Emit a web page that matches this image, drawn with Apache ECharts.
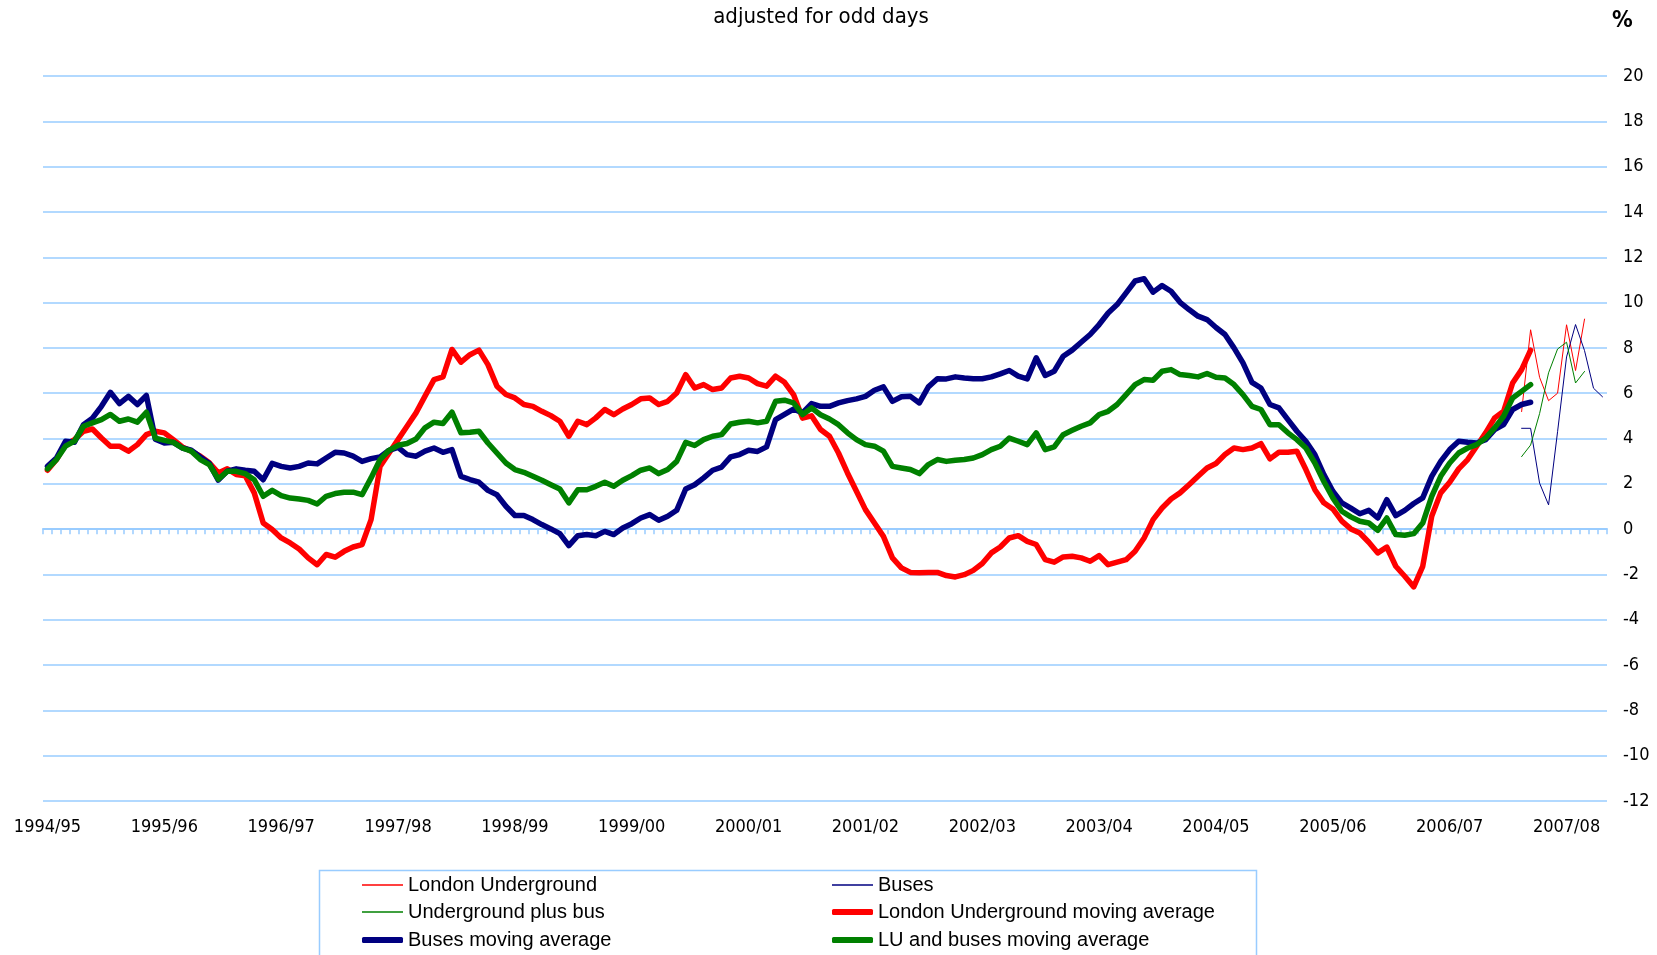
<!DOCTYPE html>
<html>
<head>
<meta charset="utf-8">
<title>adjusted for odd days</title>
<script src="https://cdn.jsdelivr.net/npm/echarts@6/dist/echarts.min.js"></script>
<style>
  html, body { margin: 0; padding: 0; background: #fff; }
  #chart { width: 1657px; height: 955px; }
</style>
</head>
<body>
<div id="chart"></div>
<script>
// financial years, 13 four-week periods each; the chart runs to 2007/08 period 5
var years = ['1994/95', '1995/96', '1996/97', '1997/98', '1998/99', '1999/00', '2000/01',
             '2001/02', '2002/03', '2003/04', '2004/05', '2005/06', '2006/07', '2007/08'];
var periodsPerYear = 13;
var periodCount = 174;

// moving averages, % change, from period 1 of 1994/95
var luMovingAvg = [
  2.6, 3.07, 3.73, 3.95, 4.32, 4.42, 4.02, 3.66, 3.66, 3.44, 3.73, 4.17, 4.32,
  4.25, 3.95, 3.63, 3.44, 3.22, 2.93, 2.48, 2.66, 2.41, 2.36, 1.6, 0.27, -0.02,
  -0.39, -0.61, -0.88, -1.27, -1.57, -1.12, -1.24, -0.98, -0.79, -0.68, 0.42, 2.77, 3.36,
  3.95, 4.54, 5.13, 5.87, 6.6, 6.72, 7.93, 7.37, 7.7, 7.9, 7.26, 6.31, 5.94,
  5.79, 5.5, 5.42, 5.2, 5.01, 4.76, 4.1, 4.76, 4.61, 4.91, 5.28, 5.05, 5.3,
  5.5, 5.75, 5.79, 5.5, 5.64, 6.01, 6.82, 6.23, 6.38, 6.16, 6.23, 6.67, 6.75,
  6.67, 6.42, 6.31, 6.75, 6.48, 5.94, 4.9, 5.0, 4.4, 4.1, 3.36, 2.48, 1.67,
  0.86, 0.27, -0.32, -1.27, -1.71, -1.91, -1.93, -1.91, -1.91, -2.05, -2.11, -2.01, -1.82,
  -1.52, -1.05, -0.79, -0.39, -0.29, -0.54, -0.68, -1.35, -1.46, -1.23, -1.2, -1.27, -1.42,
  -1.17, -1.57, -1.46, -1.35, -0.98, -0.39, 0.42, 0.93, 1.33, 1.6, 1.96, 2.33, 2.7,
  2.9, 3.29, 3.58, 3.51, 3.58, 3.77, 3.1, 3.39, 3.39, 3.44, 2.63, 1.74, 1.16,
  0.89, 0.35, 0.01, -0.17, -0.58, -1.05, -0.79, -1.64, -2.08, -2.55, -1.64, 0.57, 1.6,
  2.07, 2.66, 3.07, 3.66, 4.25, 4.91, 5.2, 6.45, 7.04, 7.9
];
var busMovingAvg = [
  2.77, 3.14, 3.88, 3.83, 4.61, 4.9, 5.42, 6.04, 5.54, 5.86, 5.5, 5.9, 3.97,
  3.8, 3.83, 3.58, 3.48, 3.19, 2.9, 2.16, 2.56, 2.66, 2.6, 2.55, 2.18, 2.9,
  2.77, 2.7, 2.77, 2.92, 2.88, 3.14, 3.39, 3.36, 3.22, 2.99, 3.11, 3.19, 3.48,
  3.61, 3.29, 3.22, 3.44, 3.58, 3.39, 3.51, 2.33, 2.19, 2.07, 1.71, 1.52, 1.01,
  0.6, 0.6, 0.42, 0.2, 0.01, -0.2, -0.73, -0.29, -0.24, -0.29, -0.1, -0.24, 0.05,
  0.24, 0.49, 0.64, 0.39, 0.57, 0.83, 1.77, 1.96, 2.26, 2.6, 2.74, 3.19, 3.29,
  3.48, 3.43, 3.63, 4.83, 5.06, 5.3, 5.13, 5.54, 5.42, 5.42, 5.57, 5.67, 5.75,
  5.86, 6.13, 6.28, 5.64, 5.84, 5.86, 5.57, 6.28, 6.64, 6.63, 6.72, 6.67, 6.64,
  6.64, 6.72, 6.85, 7.0, 6.75, 6.63, 7.56, 6.78, 6.97, 7.63, 7.9, 8.25, 8.59,
  9.03, 9.54, 9.91, 10.43, 10.95, 11.05, 10.46, 10.75, 10.5, 10.01, 9.69, 9.4, 9.25,
  8.9, 8.59, 8.0, 7.34, 6.48, 6.23, 5.5, 5.35, 4.83, 4.32, 3.88, 3.29, 2.41,
  1.67, 1.16, 0.93, 0.68, 0.83, 0.49, 1.3, 0.6, 0.83, 1.13, 1.38, 2.33, 2.99,
  3.51, 3.88, 3.83, 3.8, 3.95, 4.39, 4.61, 5.28, 5.5, 5.6
];
var bothMovingAvg = [
  2.66, 3.07, 3.66, 3.88, 4.54, 4.69, 4.83, 5.06, 4.76, 4.86, 4.72, 5.16, 4.02,
  3.92, 3.83, 3.58, 3.44, 3.07, 2.85, 2.21, 2.55, 2.55, 2.45, 2.18, 1.45, 1.71,
  1.48, 1.37, 1.33, 1.27, 1.11, 1.45, 1.57, 1.63, 1.63, 1.52, 2.26, 3.07, 3.48,
  3.7, 3.78, 3.98, 4.47, 4.72, 4.66, 5.16, 4.25, 4.28, 4.32, 3.8, 3.36, 2.92,
  2.63, 2.51, 2.33, 2.16, 1.96, 1.77, 1.16, 1.74, 1.74, 1.89, 2.07, 1.89, 2.16,
  2.36, 2.6, 2.7, 2.45, 2.63, 2.99, 3.83, 3.69, 3.95, 4.1, 4.17, 4.64, 4.72,
  4.76, 4.69, 4.76, 5.64, 5.69, 5.57, 5.06, 5.35, 5.05, 4.86, 4.61, 4.25, 3.95,
  3.73, 3.66, 3.44, 2.77, 2.7, 2.63, 2.45, 2.85, 3.07, 2.99, 3.04, 3.07, 3.14,
  3.29, 3.51, 3.66, 4.02, 3.88, 3.73, 4.25, 3.51, 3.63, 4.17, 4.36, 4.54, 4.69,
  5.06, 5.2, 5.5, 5.94, 6.38, 6.6, 6.57, 6.97, 7.04, 6.82, 6.78, 6.72, 6.87,
  6.7, 6.67, 6.38, 5.94, 5.42, 5.28, 4.61, 4.61, 4.25, 3.95, 3.58, 2.92, 2.1,
  1.38, 0.79, 0.54, 0.35, 0.27, -0.05, 0.49, -0.24, -0.27, -0.2, 0.27, 1.45, 2.33,
  2.92, 3.36, 3.58, 3.73, 4.02, 4.47, 4.98, 5.79, 6.08, 6.38
];

// single-period figures, shown only for the latest periods (from 2006/07 period 8)
var periodStart = 164;
var luPeriod = [5.19, 8.8, 6.7, 5.67, 6.0, 9.02, 7.0, 9.27];
var busPeriod = [4.45, 4.45, 2.03, 1.07, 4.3, 7.6, 9.03, 7.88, 6.22, 5.84];
var bothPeriod = [3.2, 3.71, 5.1, 6.9, 7.95, 8.25, 6.45, 6.96];

var categories = [];
for (var i = 0; i < periodCount; i++) {
  categories.push(years[Math.floor(i / periodsPerYear)] + ' P' + (i % periodsPerYear + 1));
}
function fromStart(vals) {
  var out = [];
  for (var i = 0; i < periodStart; i++) out.push(null);
  return out.concat(vals);
}

var gridBlue = '#99ccff';
var axisFont = "'DejaVu Sans Condensed', 'Liberation Sans Narrow', 'DejaVu Sans', sans-serif";
var legendFont = "'Liberation Sans', Arial, sans-serif";
var thin = 1, thick = 5.5;

var chart = echarts.init(document.getElementById('chart'));

function lineSeries(name, data, color, width, z) {
  return {
    name: name,
    type: 'line',
    data: data,
    symbol: 'none',
    smooth: false,
    z: z,
    lineStyle: { color: color, width: width, join: 'round', cap: 'round' },
    itemStyle: { color: color }
  };
}

// one legend per entry so the two columns line up like the original key
function legendItem(name, color, heavy, left, rowCentre) {
  var h = heavy ? 6 : 1.5;
  return {
    data: [{ name: name, icon: heavy ? 'roundRect' : 'rect', itemStyle: { color: color } }],
    left: left,
    top: rowCentre - 10,
    padding: 0,
    itemWidth: 41,
    itemHeight: h,
    itemGap: 5,
    selectedMode: false,
    textStyle: { color: '#000', fontSize: 20, fontFamily: legendFont }
  };
}

chart.setOption({
  animation: false,
  backgroundColor: '#fff',
  title: [
    {
      text: 'adjusted for odd days',
      left: 816,
      textAlign: 'center',
      top: 1,
      textStyle: { fontSize: 22, fontWeight: 'normal', color: '#000', fontFamily: axisFont }
    },
    {
      text: '%',
      left: 1607,
      top: 5,
      textStyle: { fontSize: 23, fontWeight: 'bold', color: '#000', fontFamily: axisFont }
    }
  ],
  grid: { left: 43, right: 50, top: 76, height: 725, containLabel: false },
  legend: [
    legendItem('London Underground', '#ff0000', false, 362, 885),
    legendItem('Underground plus bus', '#008000', false, 362, 912),
    legendItem('Buses moving average', '#000080', true, 362, 940),
    legendItem('Buses', '#000080', false, 832, 885),
    legendItem('London Underground moving average', '#ff0000', true, 832, 912),
    legendItem('LU and buses moving average', '#008000', true, 832, 940)
  ],
  graphic: [
    {
      type: 'rect',
      shape: { x: 319.5, y: 870.5, width: 937, height: 120 },
      style: { fill: 'none', stroke: gridBlue, lineWidth: 1.5 },
      silent: true
    }
  ],
  xAxis: [
    {
      // axis line and period ticks drawn through zero
      type: 'category',
      data: categories,
      boundaryGap: true,
      position: 'bottom',
      axisLine: { onZero: true, lineStyle: { color: gridBlue, width: 2 } },
      axisTick: { show: true, interval: 0, length: 5, lineStyle: { color: gridBlue, width: 1.5 } },
      axisLabel: { show: false },
      splitLine: { show: false }
    },
    {
      // year labels along the bottom
      type: 'category',
      data: categories,
      boundaryGap: true,
      position: 'bottom',
      axisLine: { show: false, onZero: false },
      axisTick: { show: false },
      splitLine: { show: false },
      axisLabel: {
        interval: periodsPerYear - 1,
        margin: 17,
        color: '#000',
        fontSize: 18,
        fontFamily: axisFont,
        formatter: function (v) { return v.split(' ')[0]; }
      }
    }
  ],
  yAxis: {
    type: 'value',
    position: 'right',
    min: -12,
    max: 20,
    interval: 2,
    axisLine: { show: false },
    axisTick: { show: false },
    axisLabel: { margin: 16, color: '#000', fontSize: 18, fontFamily: axisFont },
    splitLine: { show: true, lineStyle: { color: gridBlue, width: 1.5 } }
  },
  series: [
    lineSeries('London Underground', fromStart(luPeriod), '#ff0000', thin, 2),
    lineSeries('Buses', fromStart(busPeriod), '#000080', thin, 2),
    lineSeries('Underground plus bus', fromStart(bothPeriod), '#008000', thin, 2),
    lineSeries('London Underground moving average', luMovingAvg, '#ff0000', thick, 3),
    lineSeries('Buses moving average', busMovingAvg, '#000080', thick, 4),
    lineSeries('LU and buses moving average', bothMovingAvg, '#008000', thick, 5)
  ]
});
</script>
</body>
</html>
